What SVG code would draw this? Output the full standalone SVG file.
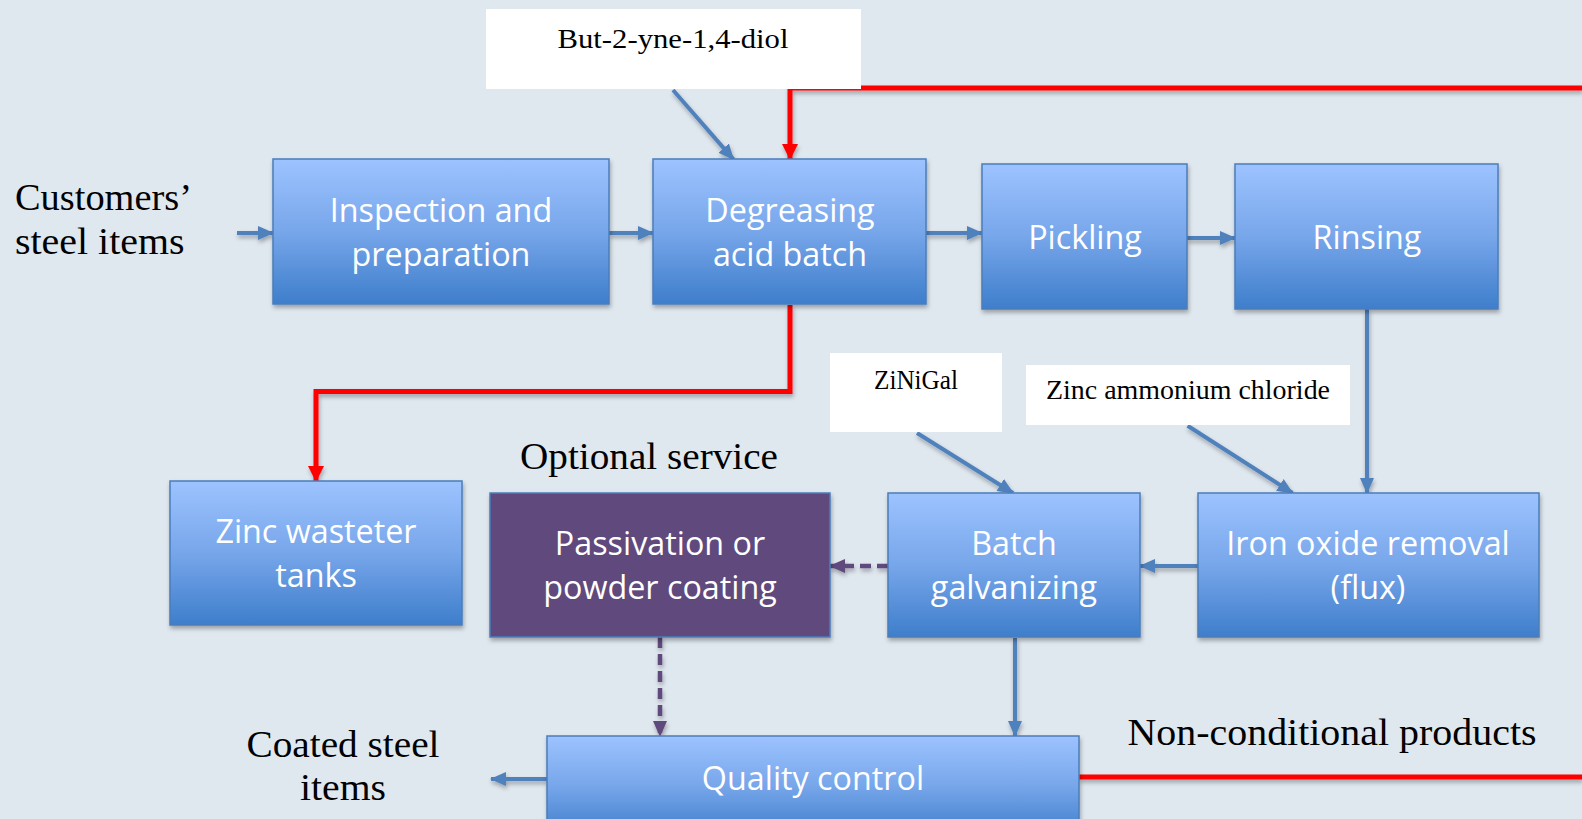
<svg xmlns="http://www.w3.org/2000/svg" width="1582" height="819" viewBox="0 0 1582 819">
<style>
.node{fill:url(#gBlue);stroke:#4a7ebb;stroke-width:1.5}
.purple{fill:#604a7b;stroke:#4a7ebb;stroke-width:1.5}
.nt{font-family:"Open Sans","Liberation Sans",sans-serif;font-size:32.3px;fill:#ffffff;text-anchor:middle}
.lbl{font-family:"Liberation Serif","DejaVu Serif",serif;font-size:38.3px;fill:#000000}
.sl{font-family:"Liberation Serif","DejaVu Serif",serif;font-size:28px;fill:#000000;text-anchor:middle}
.blue{stroke:#4f81bd;stroke-width:4;fill:none}
.red{stroke:#ff0000;stroke-width:5;fill:none}
.dash{stroke:#604a7b;stroke-width:4.5;fill:none;stroke-dasharray:11 6}
</style>
<defs>
<linearGradient id="gBlue" x1="0" y1="0" x2="0" y2="1">
<stop offset="0" stop-color="#9dc3ff"/>
<stop offset="0.5" stop-color="#77a6ea"/>
<stop offset="1" stop-color="#3e7ecb"/>
</linearGradient>
<filter id="sh" x="-10%" y="-10%" width="120%" height="130%">
<feDropShadow dx="1" dy="3" stdDeviation="2" flood-color="#000" flood-opacity="0.3"/>
</filter>
<marker id="ab" markerWidth="16" markerHeight="14" refX="15" refY="7" orient="auto" markerUnits="userSpaceOnUse">
<path d="M0,0 L16,7 L0,14 z" fill="#4f81bd"/>
</marker>
<marker id="ar" markerWidth="16" markerHeight="16" refX="15" refY="8" orient="auto" markerUnits="userSpaceOnUse">
<path d="M0,0 L16,8 L0,16 z" fill="#ff0000"/>
</marker>
<marker id="ap" markerWidth="16" markerHeight="14" refX="15" refY="7" orient="auto" markerUnits="userSpaceOnUse">
<path d="M0,0 L16,7 L0,14 z" fill="#604a7b"/>
</marker>
</defs>
<rect x="0" y="0" width="1582" height="819" fill="#dfe7ef"/>

<g id="connectors" filter="url(#sh)">
<line class="blue" x1="237" y1="233" x2="273" y2="233" marker-end="url(#ab)"/>
<line class="blue" x1="609" y1="233" x2="653" y2="233" marker-end="url(#ab)"/>
<line class="blue" x1="926" y1="233" x2="982" y2="233" marker-end="url(#ab)"/>
<line class="blue" x1="1187" y1="238" x2="1235" y2="238" marker-end="url(#ab)"/>
<line class="blue" x1="1367" y1="309" x2="1367" y2="493" marker-end="url(#ab)"/>
<line class="blue" x1="1198" y1="566" x2="1140" y2="566" marker-end="url(#ab)"/>
<line class="dash" x1="888" y1="566" x2="830" y2="566" marker-end="url(#ap)"/>
<line class="dash" x1="660" y1="637" x2="660" y2="736" marker-end="url(#ap)"/>
<line class="blue" x1="1015" y1="638" x2="1015" y2="736" marker-end="url(#ab)"/>
<line class="blue" x1="547" y1="779" x2="491" y2="779" marker-end="url(#ab)"/>
<line class="blue" x1="673" y1="90" x2="733.5" y2="159.4" marker-end="url(#ab)"/>
<line class="blue" x1="917" y1="433" x2="1013" y2="493" marker-end="url(#ab)"/>
<line class="blue" x1="1187.6" y1="425.8" x2="1292.5" y2="493" marker-end="url(#ab)"/>
<polyline class="red" points="1582,88 790,88 790,159" marker-end="url(#ar)"/>
<polyline class="red" points="790,305 790,391.5 316,391.5 316,481" marker-end="url(#ar)"/>
<line class="red" x1="1079" y1="777" x2="1582" y2="777"/>
</g>

<g id="n-inspection">
<rect class="node" x="273" y="159" width="336" height="145" filter="url(#sh)"/>
<text class="nt" x="441" y="222">Inspection and</text>
<text class="nt" x="441" y="266">preparation</text>
</g>
<g id="n-degreasing">
<rect class="node" x="653" y="159" width="273" height="145" filter="url(#sh)"/>
<text class="nt" x="790" y="222">Degreasing</text>
<text class="nt" x="790" y="266">acid batch</text>
</g>
<g id="n-pickling">
<rect class="node" x="982" y="164" width="205" height="145" filter="url(#sh)"/>
<text class="nt" x="1085" y="249">Pickling</text>
</g>
<g id="n-rinsing">
<rect class="node" x="1235" y="164" width="263" height="145" filter="url(#sh)"/>
<text class="nt" x="1367" y="249">Rinsing</text>
</g>
<g id="n-zinc-tanks">
<rect class="node" x="170" y="481" width="292" height="144" filter="url(#sh)"/>
<text class="nt" x="316" y="543">Zinc wasteter</text>
<text class="nt" x="316" y="587">tanks</text>
</g>
<g id="n-passivation">
<rect class="purple" x="490" y="493" width="340" height="144" filter="url(#sh)"/>
<text class="nt" x="660" y="555">Passivation or</text>
<text class="nt" x="660" y="599">powder coating</text>
</g>
<g id="n-galvanizing">
<rect class="node" x="888" y="493" width="252" height="144" filter="url(#sh)"/>
<text class="nt" x="1014" y="555">Batch</text>
<text class="nt" x="1014" y="599">galvanizing</text>
</g>
<g id="n-iron-oxide">
<rect class="node" x="1198" y="493" width="341" height="144" filter="url(#sh)"/>
<text class="nt" x="1368" y="555">Iron oxide removal</text>
<text class="nt" x="1368" y="599">(flux)</text>
</g>
<g id="n-quality">
<rect class="node" x="547" y="736" width="532" height="100" filter="url(#sh)"/>
<text class="nt" x="813" y="790">Quality control</text>
</g>

<g id="l-butynediol">
<rect x="486" y="9" width="375" height="80" fill="#ffffff"/>
<text class="sl" x="673" y="47.5" textLength="231" lengthAdjust="spacingAndGlyphs">But-2-yne-1,4-diol</text>
</g>
<g id="l-zinigal">
<rect x="830" y="353" width="172" height="79" fill="#ffffff"/>
<text class="sl" x="916" y="388.5" textLength="84" lengthAdjust="spacingAndGlyphs">ZiNiGal</text>
</g>
<g id="l-zac">
<rect x="1026" y="365" width="324" height="60" fill="#ffffff"/>
<text class="sl" x="1188" y="398.5" textLength="284" lengthAdjust="spacingAndGlyphs">Zinc ammonium chloride</text>
</g>

<g id="labels">
<text class="lbl" x="15" y="210" textLength="177" lengthAdjust="spacingAndGlyphs">Customers’</text>
<text class="lbl" x="15" y="254" textLength="169.5" lengthAdjust="spacingAndGlyphs">steel items</text>
<text class="lbl" x="649" y="469" text-anchor="middle" textLength="258" lengthAdjust="spacingAndGlyphs">Optional service</text>
<text class="lbl" x="1332" y="744.5" text-anchor="middle" textLength="409" lengthAdjust="spacingAndGlyphs">Non-conditional products</text>
<text class="lbl" x="343" y="757" text-anchor="middle" textLength="193" lengthAdjust="spacingAndGlyphs">Coated steel</text>
<text class="lbl" x="343" y="800" text-anchor="middle" textLength="86" lengthAdjust="spacingAndGlyphs">items</text>
</g>
</svg>
